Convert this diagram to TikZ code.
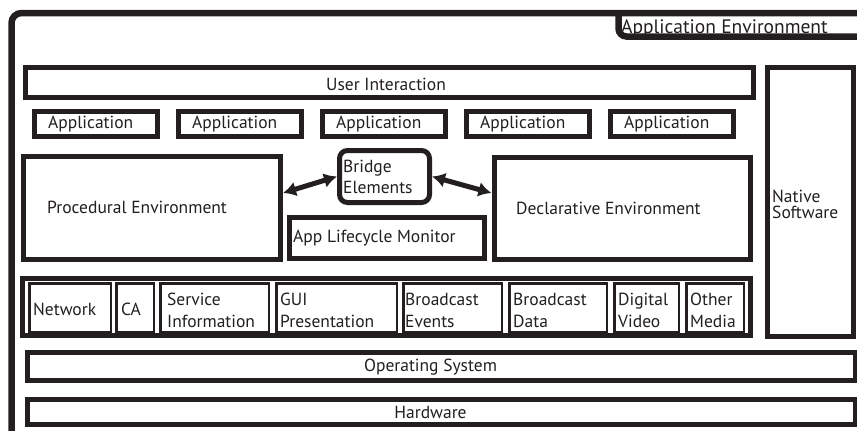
\documentclass[tikz,border=0pt]{standalone}
\usepackage{fontspec}
\newfontfamily\diagfont{PT Sans}
\usetikzlibrary{arrows.meta,calc}
\definecolor{ink}{HTML}{231F20}
\tikzset{
  lbl/.style={font=\diagfont\fontsize{17.5}{22}\selectfont, text=ink, inner sep=0pt},
  bigbox/.style={draw=ink, line width=5pt, inner sep=0pt, fill=white},
  smallbox/.style={draw=ink, line width=2.5pt, inner sep=0pt, fill=white},
  frameline/.style={draw=ink, line width=6.5pt, rounded corners=10pt},
  link/.style={draw=ink, line width=5pt, {Latex[length=13pt,width=15pt]}-{Latex[length=13pt,width=15pt]}}
}
\begin{document}
\begin{tikzpicture}[x=1pt,y=-1pt]
\useasboundingbox (0,0) rectangle (857,431);
\clip (0,0) rectangle (857,431);

% outer frame of the application environment
\draw[frameline] (11.5,445) -- (11.5,13) -- (880,13);
\node[lbl, anchor=base west, font=\diagfont\fontsize{19.5}{22}\selectfont] (envtitle) at (621,33) {Application Environment};
\draw[frameline, rounded corners=8pt] (618.5,13) -- (618.5,36.5) -- (880,36.5);

% top layers
\node[bigbox, minimum width=728pt, minimum height=30pt] (ui) at (389.5,82.5) {};
\node[lbl] (uitext) at (386,84) {User Interaction};

\node[bigbox, minimum width=85.5pt, minimum height=268.5pt] (native) at (810.25,201.75) {};
\node[lbl, anchor=west, align=left, font=\diagfont\fontsize{17.5}{16.5}\selectfont] (nativetext) at (772,204.5) {Native\\Software};

% application row
\foreach \i in {0,...,4}{
  \node[bigbox, minimum width=123pt, minimum height=25pt] (app\i) at (96+144*\i,124) {};
  \node[lbl, anchor=west] (apptext\i) at (48+144*\i,124) {Application};
}

% environments
\node[bigbox, minimum width=257.5pt, minimum height=103pt] (proc) at (151.75,207.5) {};
\node[lbl, anchor=west] (proctext) at (47,207) {Procedural Environment};

\node[bigbox, minimum width=256.5pt, minimum height=102pt] (decl) at (622.25,208) {};
\node[lbl, anchor=west] (decltext) at (516,208) {Declarative Environment};

\node[bigbox, rounded corners=8pt, minimum width=90pt, minimum height=52pt] (bridge) at (384.5,176.5) {};
\node[lbl, anchor=west, align=left, font=\diagfont\fontsize{17.5}{21}\selectfont] (bridgetext) at (343,177) {Bridge\\Elements};

\node[bigbox, minimum width=195pt, minimum height=41pt] (alm) at (387,238) {};
\node[lbl, anchor=west] (almtext) at (293,238.5) {App Lifecycle Monitor};

\draw[link] ($(proc.east)+(0,-14.5)$) -- (bridge.west);
\draw[link] (bridge.east) -- ($(decl.west)+(0,-15)$);

% middleware layer
\node[bigbox, minimum width=728pt, minimum height=57pt] (mw) at (386.5,307) {};
\foreach \name/\l/\r in {net/28/112, ca/115/155, si/159/270, gui/275/398, bev/402/503, bdat/508/608, dvid/613/680, omed/685/745}{
  \node[smallbox, minimum width={\r-\l-2.5}, minimum height=48.5pt] (\name) at ({(\l+\r)/2},307.5) {};
}
\node[lbl, anchor=west] (nettext) at (33,309) {Network};
\node[lbl, anchor=west] (catext) at (121,309) {CA};
\node[lbl, anchor=west, align=left] (sitext) at (167,310.5) {Service\\Information};
\node[lbl, anchor=west, align=left] (guitext) at (280,310.5) {GUI\\Presentation};
\node[lbl, anchor=west, align=left] (bevtext) at (405,310.5) {Broadcast\\Events};
\node[lbl, anchor=west, align=left] (bdattext) at (513,310.5) {Broadcast\\Data};
\node[lbl, anchor=west, align=left] (dvidtext) at (618,310.5) {Digital\\Video};
\node[lbl, anchor=west, align=left] (omedtext) at (690,310.5) {Other\\Media};

% system layers
\node[bigbox, minimum width=828pt, minimum height=28pt] (os) at (441.5,366.5) {};
\node[lbl] (ostext) at (430.5,367) {Operating System};

\node[bigbox, minimum width=828pt, minimum height=25pt] (hw) at (441.5,412) {};
\node[lbl] (hwtext) at (430.5,412.5) {Hardware};
\end{tikzpicture}
\end{document}
